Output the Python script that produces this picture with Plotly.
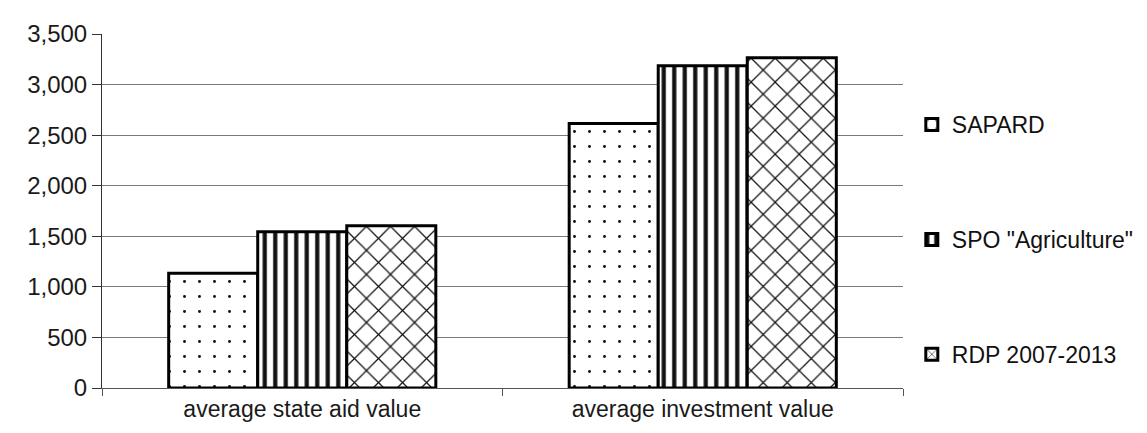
import plotly.graph_objects as go

categories = ["average state aid value", "average investment value"]
series_names = ["SAPARD", "SPO \"Agriculture\"", "RDP 2007-2013"]
sapard = [1135, 2615]
spo = [1545, 3185]
rdp = [1605, 3265]
y_ticks = [0, 500, 1000, 1500, 2000, 2500, 3000, 3500]

patterns = [".", "|", "x"]
pattern_sizes = [15, 10.5, 17]
pattern_solidity = [0.03, 0.4, 0.14]

fig = go.Figure()
for i, (name, vals) in enumerate(zip(series_names, [sapard, spo, rdp])):
    fig.add_trace(go.Bar(
        x=categories, y=vals, name=name, legendgroup=f"g{i}",
        marker=dict(
            color="white",
            line=dict(color="black", width=3),
            pattern=dict(shape=patterns[i], fgcolor="#111111", bgcolor="white",
                         fgopacity=1, size=pattern_sizes[i],
                         solidity=pattern_solidity[i]),
        ),
    ))

fig.update_layout(
    width=1147, height=433,
    margin=dict(l=94, r=252, t=22, b=53),
    paper_bgcolor="white", plot_bgcolor="white",
    barmode="group", bargap=0.333, bargroupgap=0,
    font=dict(family="Liberation Sans, Arial, sans-serif", size=23, color="#1a1a1a"),
    showlegend=True,
    legend=dict(x=1.011, y=0.805, xanchor="left", yanchor="top",
                traceorder="grouped", tracegroupgap=82,
                font=dict(size=23, color="#111111"), itemwidth=30),
    xaxis=dict(showline=True, linecolor="#555555", linewidth=1,
               ticks="outside", tickson="boundaries", ticklen=7, tickcolor="#555555",
               tickfont=dict(size=23), showgrid=False),
    yaxis=dict(range=[0, 3500], tickvals=y_ticks, tickformat=",",
               showline=True, linecolor="#333333", linewidth=1,
               ticks="outside", ticklen=9, tickcolor="#333333",
               showgrid=True, gridcolor="#7a7a7a", gridwidth=1,
               tickfont=dict(size=24), zeroline=False),
)

fig.write_html("out.html")
